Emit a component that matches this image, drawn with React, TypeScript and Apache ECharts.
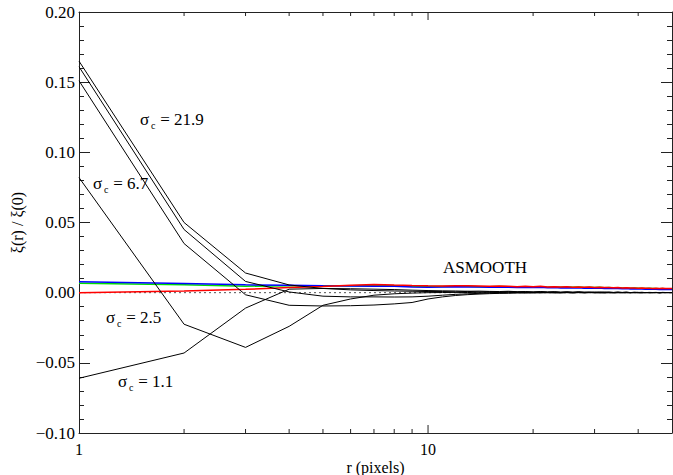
import React, { useEffect, useRef } from "react";
import * as echarts from "echarts";

const rValues = [
  1, 2, 3, 4, 5, 6, 7, 8, 9, 10, 11, 12, 13, 14, 15, 16, 17, 18, 19, 20, 21, 22, 23, 24, 25,
  26, 27, 28, 29, 30, 31, 32, 33, 34, 35, 36, 37, 38, 39, 40, 41, 42, 43, 44, 45, 46, 47, 48, 49, 50,
];

const blueLine = [
  0.0078, 0.0066, 0.0056, 0.0053, 0.005, 0.0048, 0.0045, 0.0046, 0.0041, 0.0039, 0.004, 0.0042, 0.0041,
  0.004, 0.0038, 0.004, 0.0039, 0.0037, 0.0038, 0.0036, 0.0039, 0.0035, 0.0036, 0.0034, 0.0035, 0.0033,
  0.0035, 0.0032, 0.0033, 0.0031, 0.0033, 0.003, 0.0031, 0.0029, 0.003, 0.0028, 0.0029, 0.0027, 0.0028,
  0.0026, 0.0027, 0.0025, 0.0026, 0.0024, 0.0025, 0.0023, 0.0024, 0.0022, 0.0023, 0.0022,
];
const greenLine = [
  0.0067, 0.0056, 0.0046, 0.0049, 0.005, 0.005, 0.0051, 0.0049, 0.0046, 0.0044, 0.0044, 0.0046, 0.0045,
  0.0043, 0.0042, 0.0044, 0.0042, 0.0041, 0.0043, 0.004, 0.0043, 0.0039, 0.004, 0.0039, 0.004, 0.0038,
  0.004, 0.0037, 0.0038, 0.0036, 0.0038, 0.0035, 0.0036, 0.0034, 0.0035, 0.0033, 0.0034, 0.0032, 0.0033,
  0.0031, 0.0032, 0.003, 0.0031, 0.0029, 0.003, 0.0028, 0.0029, 0.0027, 0.0028, 0.0027,
];
const redLine = [
  0.0, 0.0012, 0.0024, 0.0036, 0.0044, 0.0052, 0.0058, 0.0054, 0.0051, 0.0049, 0.0048, 0.005, 0.0049,
  0.0047, 0.0045, 0.0047, 0.0045, 0.0043, 0.0046, 0.0042, 0.0046, 0.0041, 0.0042, 0.004, 0.0042, 0.0039,
  0.0041, 0.0038, 0.004, 0.0037, 0.0039, 0.0036, 0.0037, 0.0035, 0.0036, 0.0034, 0.0035, 0.0033, 0.0034,
  0.0032, 0.0033, 0.0031, 0.0032, 0.003, 0.0031, 0.003, 0.0031, 0.0029, 0.003, 0.0029,
];

const blackA = [
  0.165, 0.05, 0.014, 0.0055, 0.003, 0.002, 0.0015, 0.0012, 0.001, 0.0008, 0.0008, 0.0006, 0.0009, 0.0005,
  0.0007, 0.0004, 0.0008, 0.0005, 0.0006, 0.0003, 0.0007, 0.0004, 0.0006, 0.0002, 0.0005, 0.0003, 0.0006,
  0.0002, 0.0004, 0.0001, 0.0005, 0.0002, 0.0004, 0.0001, 0.0003, 0.0001, 0.0004, 0.0, 0.0003, 0.0001,
  0.0003, 0.0, 0.0002, 0.0001, 0.0002, 0.0, 0.0002, 0.0001, 0.0001, 0.0001,
];
const blackB = [
  0.161, 0.045, 0.008, 0.0005, -0.0025, -0.003, -0.003, -0.0031, -0.003, -0.0025, -0.0018, -0.0012,
  -0.0008, -0.0005, -0.0003, -0.0002, -0.0001, 0.0, 0.0001, 0.0, 0.0002, 0.0, 0.0001, -0.0001, 0.0001, 0.0,
  0.0002, -0.0001, 0.0, 0.0001, -0.0001, 0.0, 0.0001, -0.0001, 0.0, 0.0001, -0.0001, 0.0, 0.0001, 0.0,
  -0.0001, 0.0001, 0.0, 0.0, 0.0001, -0.0001, 0.0, 0.0001, 0.0, 0.0,
];
const blackC = [
  0.151, 0.035, -0.0015, -0.009, -0.0095, -0.0093, -0.0088, -0.008, -0.007, -0.0045, -0.003, -0.002,
  -0.0014, -0.001, -0.0007, -0.0005, -0.0004, -0.0002, -0.0003, -0.0001, -0.0002, 0.0, -0.0002, -0.0001,
  0.0, -0.0002, 0.0, -0.0001, 0.0001, -0.0001, 0.0, -0.0002, 0.0, -0.0001, 0.0, -0.0001, 0.0001, -0.0001,
  0.0, -0.0001, 0.0, 0.0, -0.0001, 0.0, 0.0, -0.0001, 0.0, 0.0, 0.0, 0.0,
];
const blackD = [
  0.082, -0.0225, -0.039, -0.024, -0.009, -0.0045, -0.0018, -0.0008, -0.0003, 0.0, 0.0001, 0.0002, 0.0001,
  0.0003, 0.0002, 0.0001, 0.0003, 0.0001, 0.0002, 0.0, 0.0002, 0.0001, 0.0003, 0.0001, 0.0002, 0.0, 0.0002,
  0.0001, 0.0002, 0.0, 0.0001, 0.0002, 0.0, 0.0001, 0.0002, 0.0, 0.0001, 0.0001, 0.0, 0.0002, 0.0, 0.0001,
  0.0001, 0.0, 0.0001, 0.0, 0.0001, 0.0, 0.0001, 0.0,
];
const blackE = [
  -0.061, -0.043, -0.011, 0.0025, 0.003, 0.0028, 0.0025, 0.0022, 0.0018, 0.0015, 0.0013, 0.0012, 0.001,
  0.0011, 0.0009, 0.0008, 0.001, 0.0007, 0.0008, 0.0006, 0.0008, 0.0005, 0.0006, 0.0004, 0.0006, 0.0003,
  0.0005, 0.0004, 0.0003, 0.0005, 0.0002, 0.0004, 0.0003, 0.0002, 0.0004, 0.0002, 0.0003, 0.0001, 0.0002,
  0.0002,
];
const zeroLine = [0, 0];
const zeroLineR = [1, 50];

const xMinorTicks = [2, 3, 4, 5, 6, 7, 8, 9, 20, 30, 40];
const xMajorTicks = [10];
const xTickLabels = [1, 10];

const sigmaLabels = [
  { value: "21.9", x: 140, y: 119 },
  { value: "6.7", x: 93, y: 183 },
  { value: "2.5", x: 106, y: 317 },
  { value: "1.1", x: 118, y: 381 },
];
const methodLabel = "ASMOOTH";

const FONT = "Liberation Serif";
const AXIS = "#222";

function pairs(ys: number[]) {
  return ys.map((y, i) => [rValues[i], y]);
}

function txt(text: string, x: number, y: number, size: number) {
  return {
    type: "text",
    x,
    y,
    style: { text, fontFamily: FONT, fontSize: size, fill: "#000", verticalAlign: "middle" },
  };
}

function sigmaGraphic(l: { value: string; x: number; y: number }) {
  return {
    type: "group",
    x: l.x,
    y: l.y,
    children: [txt("σ", 0, 0, 17), txt("c", 11, 6, 10), txt(" = " + l.value, 16, 0, 17)],
  };
}

export default function App() {
  const ref = useRef<HTMLDivElement>(null);
  useEffect(() => {
    document.body.style.margin = "0";
    const chart = echarts.init(ref.current!, null, { renderer: "svg" });
    const tickData = [
      ...xMinorTicks.map((v) => [v, 0]),
      ...xMajorTicks.map((v) => [v, 1]),
    ];
    const mkLine = (name: string, data: number[], color: string, width: number, z = 2) => ({
      name,
      type: "line",
      data: pairs(data),
      showSymbol: false,
      symbol: "none",
      lineStyle: { color, width },
      itemStyle: { color },
      z,
      silent: true,
    });
    chart.setOption({
      animation: false,
      backgroundColor: "#fff",
      grid: { left: 79, right: 1, top: 12, bottom: 42, outerBoundsMode: "none" },
      xAxis: [
        {
          type: "log",
          logBase: 10,
          min: 1,
          max: 50,
          position: "bottom",
          axisLine: { show: true, onZero: false, lineStyle: { color: AXIS, width: 1 } },
          axisTick: { show: false },
          splitLine: { show: false },
          axisLabel: {
            margin: 8,
            fontFamily: FONT,
            fontSize: 16,
            color: "#000",
            showMaxLabel: false,
            formatter: (v: number) => {
              const hit = xTickLabels.find((t) => Math.abs(v - t) < 1e-6);
              return hit !== undefined ? String(hit) : "";
            },
          },
          name: "r (pixels)",
          nameLocation: "middle",
          nameGap: 26,
          nameMoveOverlap: false,
          nameTextStyle: { fontFamily: FONT, fontSize: 16, color: "#000" },
        },
        {
          type: "log",
          logBase: 10,
          min: 1,
          max: 50,
          position: "top",
          axisLine: { show: true, onZero: false, lineStyle: { color: AXIS, width: 1 } },
          axisTick: { show: false },
          axisLabel: { show: false },
          splitLine: { show: false },
        },
      ],
      yAxis: [
        {
          type: "value",
          min: -0.1,
          max: 0.2,
          interval: 0.05,
          position: "left",
          axisLine: { show: true, onZero: false, lineStyle: { color: AXIS, width: 1 } },
          axisTick: { show: true, inside: true, length: 11, lineStyle: { color: AXIS } },
          minorTick: { show: true, splitNumber: 5, length: 5, lineStyle: { color: AXIS } },
          splitLine: { show: false },
          axisLabel: {
            margin: 4,
            fontFamily: FONT,
            fontSize: 17,
            color: "#000",
            formatter: (v: number) => (v < -1e-9 ? "−" : "") + Math.abs(v).toFixed(2),
          },
          name: "ξ(r) / ξ(0)",
          nameLocation: "middle",
          nameGap: 54,
          nameRotate: 90,
          nameMoveOverlap: false,
          nameTextStyle: { fontFamily: FONT, fontSize: 16, color: "#000" },
        },
        {
          type: "value",
          min: -0.1,
          max: 0.2,
          interval: 0.05,
          position: "right",
          axisLine: { show: true, onZero: false, lineStyle: { color: AXIS, width: 1 } },
          axisTick: { show: true, inside: true, length: 11, lineStyle: { color: AXIS } },
          minorTick: { show: true, splitNumber: 5, length: 5, lineStyle: { color: AXIS } },
          splitLine: { show: false },
          axisLabel: { show: false },
        },
      ],
      series: [
        {
          name: "zero",
          type: "line",
          data: zeroLineR.map((r, i) => [r, zeroLine[i]]),
          symbol: "none",
          lineStyle: { color: "#555", width: 1, type: [2, 3] },
          z: 1,
          silent: true,
        },
        mkLine("green", greenLine, "#00dd00", 1.5),
        mkLine("blue", blueLine, "#0000ff", 1.5),
        mkLine("red", redLine, "#ff0000", 1.5),
        mkLine("A", blackA, "#000", 1, 3),
        mkLine("B", blackB, "#000", 1, 3),
        mkLine("C", blackC, "#000", 1, 3),
        mkLine("D", blackD, "#000", 1, 3),
        mkLine("E", blackE, "#000", 1, 3),
        {
          name: "xticks",
          type: "custom",
          silent: true,
          z: 5,
          data: tickData,
          renderItem: (params: any, api: any) => {
            const r = api.value(0);
            const major = api.value(1) === 1;
            const len = major ? 8 : 4;
            const pb = api.coord([r, -0.1]);
            const pt = api.coord([r, 0.2]);
            const st = { stroke: AXIS, lineWidth: 1 };
            return {
              type: "group",
              children: [
                { type: "line", shape: { x1: pb[0], y1: pb[1], x2: pb[0], y2: pb[1] - len }, style: st },
                { type: "line", shape: { x1: pt[0], y1: pt[1], x2: pt[0], y2: pt[1] + len }, style: st },
              ],
            };
          },
        },
      ],
      graphic: [...sigmaLabels.map(sigmaGraphic), txt(methodLabel, 443, 267, 17)],
    });
    return () => chart.dispose();
  }, []);
  return <div ref={ref} style={{ position: "absolute", left: 0, top: 0, width: 673, height: 475 }} />;
}
